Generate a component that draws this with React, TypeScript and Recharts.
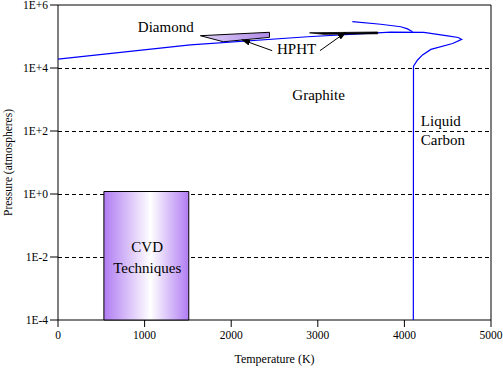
import React from 'react';
import { ScatterChart, Scatter, XAxis, YAxis, CartesianGrid, ReferenceLine } from 'recharts';

// temperature in K, pressure in atmospheres
const boundaryT = [0, 1528, 2882, 3843, 4225, 4499, 4622, 4661, 4557, 4306, 4209, 4152, 4105, 4103];
const boundaryP = [19000, 54000, 98000, 138000, 135000, 105000, 93000, 81000, 60000, 39000, 26000, 18000, 11500, 0.0001];

const upperT = [3399, 3727, 3958, 4036, 4094];
const upperP = [295000, 245000, 204000, 174000, 141000];

const diamondT = [1644, 2442, 2442, 1910];
const diamondP = [106000, 136000, 94000, 68000];

const hphtT = [2905, 3692, 3692, 3067];
const hphtP = [131000, 139000, 122000, 117000];

const cvdT = [530, 1510, 1510, 530];
const cvdP = [1.2, 1.2, 0.0001, 0.0001];

const arrowLeftT = [2473, 2126];
const arrowLeftP = [35500, 78000];
const arrowRightT = [3025, 3322];
const arrowRightP = [35500, 135000];

const xTicks = [0, 1000, 2000, 3000, 4000, 5000];
const yTicks = [-4, -2, 0, 2, 4, 6];

const labels = [
  { text: 'Diamond', t: 1244, p: 204000, anchor: 'middle' },
  { text: 'HPHT', t: 2755, p: 40000, anchor: 'middle' },
  { text: 'Graphite', t: 3009, p: 1380, anchor: 'middle' },
  { text: 'Liquid', t: 4190, p: 212, anchor: 'start' },
  { text: 'Carbon', t: 4190, p: 52, anchor: 'start' },
  { text: 'CVD', t: 1030, p: 0.0207, anchor: 'middle' },
  { text: 'Techniques', t: 1030, p: 0.0045, anchor: 'middle' },
];

const font = "'Liberation Serif', 'DejaVu Serif', serif";

const toPts = (ts: number[], ps: number[]) => ts.map((t, i) => ({ t, lp: Math.log10(ps[i]) }));
const labelPts = labels.map((l) => ({ ...l, lp: Math.log10(l.p) }));

const pathOf = (pts: any[], close: boolean) =>
  pts.map((p, i) => `${i ? 'L' : 'M'}${p.x},${p.y}`).join(' ') + (close ? ' Z' : '');

const noDot = () => <g />;

const cvdShape = (props: any) => (
  <g>
    <defs>
      <linearGradient id="cvdFill" x1="0" y1="0" x2="1" y2="0">
        <stop offset="0%" stopColor="#b07cf2" />
        <stop offset="55%" stopColor="#ffffff" />
        <stop offset="100%" stopColor="#b07cf2" />
      </linearGradient>
      <linearGradient id="diamondFill" x1="0" y1="0" x2="1" y2="0">
        <stop offset="0%" stopColor="#ddd0f6" />
        <stop offset="100%" stopColor="#b08ae8" />
      </linearGradient>
      <marker id="arrowHead" markerWidth="9" markerHeight="6" refX="8" refY="3" orient="auto" markerUnits="userSpaceOnUse">
        <path d="M0,0 L9,3 L0,6 z" fill="#000" />
      </marker>
    </defs>
    <path d={pathOf(props.points || [], true)} fill="url(#cvdFill)" stroke="#000" strokeWidth={1} />
  </g>
);

const polyShape = (fill: string, strokeWidth: number) => (props: any) => (
  <path d={pathOf(props.points || [], true)} fill={fill} stroke="#000" strokeWidth={strokeWidth} />
);

const arrowShape = (props: any) => (
  <path d={pathOf(props.points || [], false)} fill="none" stroke="#000" strokeWidth={1} markerEnd="url(#arrowHead)" />
);

const textShape = (props: any) => (
  <text
    x={props.cx}
    y={props.cy}
    textAnchor={props.payload.anchor}
    dominantBaseline="central"
    style={{ fontFamily: font, fontSize: 15 }}
    fill="#000"
  >
    {props.payload.text}
  </text>
);

const fmtY = (v: number) => (v >= 0 ? `1E+${v}` : `1E${v}`);

export default function App() {
  return (
    <div style={{ position: 'absolute', left: 0, top: 0, background: '#fff', fontFamily: font }}>
      <ScatterChart width={503} height={368} margin={{ top: 5, right: 12, bottom: 0, left: 0 }} style={{ fontFamily: font }}>
        <CartesianGrid
          vertical={false}
          horizontalValues={[-2, 0, 2, 4]}
          stroke="#000"
          strokeDasharray="4 3"
          shapeRendering="crispEdges"
        />
        <XAxis
          dataKey="t"
          type="number"
          domain={[0, 5000]}
          ticks={xTicks}
          interval={0}
          height={48}
          tickSize={7}
          tickMargin={4}
          stroke="#000"
          tick={{ fill: '#000', fontSize: 11.5, style: { fontFamily: font } }}
          label={{ value: 'Temperature (K)', position: 'insideBottom', offset: 5, fill: '#000', fontSize: 12, style: { fontFamily: font } }}
        />
        <YAxis
          dataKey="lp"
          type="number"
          domain={[-4, 6]}
          ticks={yTicks}
          interval={0}
          width={58}
          tickSize={8}
          tickMargin={2}
          tickFormatter={fmtY}
          stroke="#000"
          tick={{ fill: '#000', fontSize: 11.5, style: { fontFamily: font } }}
          label={{
            value: 'Pressure (atmospheres)',
            angle: -90,
            position: 'insideLeft',
            offset: 8,
            fill: '#000',
            fontSize: 11.5,
            style: { textAnchor: 'middle', fontFamily: font },
          }}
        />
        <ReferenceLine y={6} stroke="#000" />
        <ReferenceLine x={5000} stroke="#000" />
        <Scatter data={toPts(cvdT, cvdP)} line={cvdShape} shape={noDot} isAnimationActive={false} />
        <Scatter data={toPts(diamondT, diamondP)} line={polyShape('url(#diamondFill)', 1)} shape={noDot} isAnimationActive={false} />
        <Scatter data={toPts(boundaryT, boundaryP)} line={{ stroke: '#0000ff', strokeWidth: 1.2 }} shape={noDot} isAnimationActive={false} />
        <Scatter data={toPts(upperT, upperP)} line={{ stroke: '#0000ff', strokeWidth: 1.2 }} shape={noDot} isAnimationActive={false} />
        <Scatter data={toPts(hphtT, hphtP)} line={polyShape('#000', 0.8)} shape={noDot} isAnimationActive={false} />
        <Scatter data={toPts(arrowLeftT, arrowLeftP)} line={arrowShape} shape={noDot} isAnimationActive={false} />
        <Scatter data={toPts(arrowRightT, arrowRightP)} line={arrowShape} shape={noDot} isAnimationActive={false} />
        <Scatter data={labelPts} shape={textShape} isAnimationActive={false} />
      </ScatterChart>
    </div>
  );
}
